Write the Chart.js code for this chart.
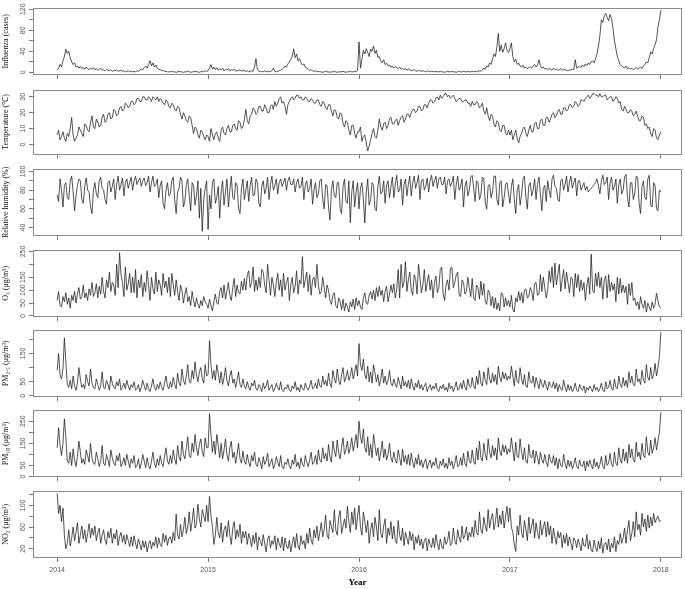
<!DOCTYPE html>
<html><head><meta charset="utf-8">
<script src="https://cdn.jsdelivr.net/npm/chart.js@4.4.0/dist/chart.umd.min.js"></script>
<style>
html,body{margin:0;padding:0;background:#fff;width:685px;height:589px;overflow:hidden;position:relative;}
canvas{position:absolute;left:0;}
</style></head><body>
<script>
// x tick labels (years)
const yearTicks = [2014, 2015, 2016, 2017, 2018];

// all series: twice-weekly samples (104 per year, last point = 1 Jan 2018)
const influenzaCases = [
 4,8,15,10,22,30,44,36,40,28,20,15,18,10,12,8,11,7,9,6,10,7,5,8,6,9,
 5,7,4,6,8,4,5,3,6,4,3,5,2,4,3,5,2,3,4,2,3,1,2,3,1,2,
 1,2,1,3,2,4,6,5,9,12,8,15,22,12,18,10,14,8,6,5,3,4,2,2,1,1,
 1,2,1,1,0,1,2,1,1,0,1,1,2,1,0,1,1,2,1,1,0,1,2,1,3,2,
 3,8,15,6,10,5,9,4,7,5,8,3,6,4,7,3,5,4,6,2,4,3,5,2,4,3,
 2,3,1,2,3,2,10,26,6,2,1,2,1,3,1,2,1,2,3,8,2,1,2,3,4,6,
 8,12,10,16,20,25,30,45,28,35,22,26,18,14,16,10,8,6,4,5,3,2,3,1,2,1,
 1,0,1,2,1,1,0,1,1,2,1,0,1,1,1,2,1,0,1,1,2,1,1,2,1,3,
 58,8,25,42,35,45,38,30,44,40,50,36,42,28,30,22,18,24,15,17,12,14,10,12,8,11,
 9,7,10,6,8,5,7,4,6,5,3,4,5,3,2,4,3,2,3,2,1,3,2,1,2,2,
 1,2,1,1,2,1,1,0,1,2,1,1,2,1,1,0,1,2,1,1,2,1,1,2,1,1,
 2,1,2,1,2,3,2,5,8,6,12,10,18,15,25,35,30,48,74,40,52,38,45,56,42,38,
 45,56,30,20,25,15,18,12,10,14,8,10,7,9,11,8,12,15,10,14,24,12,8,10,6,8,
 5,7,6,4,8,5,6,4,5,7,4,6,5,4,3,5,4,6,5,24,8,10,12,9,14,11,
 16,13,18,15,20,22,18,26,35,50,70,100,95,108,112,104,98,110,102,85,60,45,30,22,15,12,
 10,8,12,7,9,6,8,5,7,9,6,8,10,7,12,15,20,18,28,39,35,45,53,62,87,100,
 118];
const temperature = [
 6,9,3,5,8,4,2,7,5,10,17,6,2,4,6,11,9,7,5,13,12,9,8,14,18,11,
 10,16,14,11,12,17,19,14,15,19,20,16,17,22,21,18,19,23,24,21,22,26,25,23,24,27,
 27,25,26,29,29,27,27,30,30,28,28,30,29,27,30,29,28,30,27,29,28,26,25,28,27,24,
 23,26,25,22,21,24,23,19,16,20,18,15,14,18,17,12,7,11,10,6,4,9,8,5,3,6,
 5,2,10,6,3,7,8,4,2,9,11,7,6,10,12,8,8,12,13,10,9,15,14,10,11,16,
 22,15,13,18,19,23,22,19,20,24,24,21,21,25,23,20,20,24,25,22,27,24,26,29,30,26,
 27,24,19,25,27,29,30,28,29,31,31,29,30,28,28,30,29,27,27,29,28,26,26,28,28,25,
 24,27,26,23,22,25,25,21,18,22,21,17,16,20,19,13,11,15,14,9,6,12,12,7,4,8,
 8,11,2,5,6,1,-4,-1,3,7,10,5,4,9,16,11,9,13,14,10,12,16,17,13,13,15,
 16,12,15,17,18,14,16,19,19,17,20,22,22,20,21,24,24,21,22,25,25,23,26,28,28,26,
 27,29,30,28,31,29,30,32,32,30,31,29,30,31,29,27,28,29,29,27,27,28,28,26,26,24,
 27,25,25,27,26,23,24,26,21,19,23,18,15,19,18,13,11,15,14,9,8,12,12,7,6,9,
 6,9,3,6,9,4,1,5,7,10,11,7,5,9,12,8,8,13,14,10,10,15,16,12,12,17,
 17,14,16,19,20,17,18,21,22,19,19,23,23,21,22,25,25,23,24,27,26,24,25,28,28,27,
 29,30,31,29,30,32,32,31,31,30,32,30,30,31,31,28,29,30,30,27,28,30,29,26,27,22,
 21,24,22,20,20,22,21,18,19,21,18,15,15,18,17,12,13,10,11,7,5,10,9,4,3,6,
 8];
const humidity = [
 75,68,92,80,62,85,88,72,70,90,95,78,58,74,85,92,90,70,66,84,93,80,78,62,55,80,
 88,76,72,90,94,82,80,70,65,88,90,78,84,92,70,86,95,80,86,93,74,88,92,82,88,94,
 80,90,95,86,90,93,84,90,93,85,88,95,78,88,95,84,86,92,72,85,90,66,60,80,88,74,
 76,90,94,70,55,78,82,94,90,62,68,86,92,75,58,88,85,64,74,90,50,82,36,70,82,90,
 38,75,60,88,92,66,72,84,50,78,90,64,78,92,62,80,95,72,70,88,85,60,55,82,92,70,
 80,90,68,85,94,74,75,92,88,66,62,84,90,76,82,94,70,86,95,80,85,92,76,88,92,84,
 88,93,80,90,94,86,86,92,78,88,92,82,84,94,70,86,90,78,82,92,65,80,88,72,76,90,
 92,70,60,86,85,62,48,80,90,74,72,88,88,60,55,84,92,68,66,90,45,78,90,62,78,88,
 60,82,88,70,45,78,92,64,70,88,85,60,58,84,95,76,78,90,66,85,90,72,84,94,72,86,
 96,78,80,92,64,86,92,74,86,95,74,88,95,82,88,96,70,90,92,80,84,93,78,90,96,84,
 90,95,82,92,94,86,86,94,76,90,92,84,88,95,70,86,95,80,84,92,62,84,90,74,80,94,
 96,82,68,90,88,70,75,94,92,66,60,85,86,72,78,95,95,70,64,88,90,62,72,86,88,76,
 66,84,92,70,55,80,86,64,75,92,95,72,60,85,88,74,80,92,70,86,94,76,58,82,85,68,
 90,80,72,92,96,84,82,70,68,90,92,80,86,95,78,88,95,82,88,93,74,90,90,80,84,88,
 80,84,78,80,82,84,86,88,92,84,76,90,96,86,88,94,70,88,94,80,84,92,66,86,92,76,
 80,94,97,72,62,88,88,70,76,95,94,66,55,84,90,72,70,92,96,64,62,88,85,60,58,80,
 78];
const ozone = [
 60,95,40,35,75,55,90,45,70,30,80,60,95,50,85,110,65,75,120,70,90,60,105,80,130,75,
 90,125,70,115,85,150,95,70,140,110,170,95,130,120,80,200,110,245,160,130,75,190,100,125,165,90,
 150,90,180,70,140,110,160,75,130,95,175,120,60,150,105,85,170,95,140,120,80,165,110,135,90,150,
 75,165,120,80,140,95,60,120,100,50,85,110,55,75,40,95,60,35,70,45,30,60,40,75,55,45,
 30,65,40,20,55,85,50,45,95,110,70,120,65,95,130,80,60,110,145,75,120,90,85,135,100,145,
 100,160,175,110,130,190,95,140,100,150,110,180,170,120,90,200,140,80,150,120,75,130,165,100,140,75,
 165,100,130,150,60,120,150,90,115,175,85,140,125,230,110,140,170,95,160,80,140,150,110,200,120,85,
 95,150,110,70,120,100,60,45,80,90,40,30,70,55,25,65,20,50,35,15,55,35,65,25,70,40,
 60,35,25,70,90,50,45,80,95,65,100,60,110,75,115,80,100,55,95,115,55,85,120,90,125,70,
 105,180,70,200,110,130,210,95,140,170,100,80,160,145,85,200,150,90,120,180,95,130,160,100,140,70,
 130,155,90,110,180,190,85,60,120,140,100,185,190,110,130,160,170,80,75,140,130,85,95,150,110,75,
 145,70,60,120,110,65,135,80,125,55,45,100,90,40,75,30,70,25,50,20,90,85,35,70,40,60,
 35,80,25,15,70,55,95,60,90,50,100,105,70,75,110,95,60,125,130,80,85,160,95,150,110,70,
 100,175,130,190,110,205,120,160,200,95,140,180,105,170,130,90,150,145,75,165,110,160,95,140,100,130,
 60,120,150,85,240,100,90,165,115,170,110,150,65,140,155,70,160,95,130,100,125,55,150,85,145,90,
 120,90,115,45,125,80,130,60,70,40,55,25,75,45,30,60,15,50,35,20,55,30,45,88,60,35,
 30];
const pm25 = [
 90,150,75,60,95,205,120,40,30,55,25,70,35,20,45,100,60,30,40,25,75,50,35,95,45,30,
 25,60,40,20,35,85,30,25,55,40,20,70,45,30,25,50,35,60,20,30,45,25,55,35,20,40,
 30,50,20,25,40,15,30,55,35,20,45,25,15,35,60,30,20,40,25,50,30,20,45,70,35,25,
 50,30,65,40,25,80,45,35,95,55,40,70,110,50,45,90,60,120,75,50,85,100,60,45,110,70,
 75,195,110,60,90,55,110,80,45,85,40,65,100,55,35,70,90,45,60,30,55,85,40,30,60,35,
 25,50,30,20,45,35,55,25,20,40,30,15,45,25,35,55,20,30,40,15,25,45,30,20,50,20,
 15,30,25,40,20,15,35,25,50,20,30,15,40,25,20,45,30,20,35,55,25,30,45,25,60,35,
 30,70,40,55,35,80,45,30,90,60,45,95,55,40,75,100,50,65,90,55,70,100,60,85,110,70,
 185,110,90,130,75,60,105,50,85,45,110,80,50,75,35,60,95,45,70,40,55,90,45,35,60,40,
 30,65,45,25,70,35,50,30,55,25,60,35,20,45,30,55,25,40,20,35,45,15,30,40,20,35,
 25,45,20,15,35,25,40,20,30,15,45,25,35,15,30,50,20,25,45,25,55,30,20,60,35,30,
 65,35,25,70,40,90,45,35,85,55,40,100,60,45,80,50,75,40,105,65,50,85,60,80,55,70,
 60,105,70,35,90,50,45,100,60,40,75,35,30,85,50,45,70,30,65,45,25,60,40,30,55,35,
 20,50,35,30,50,25,45,15,40,25,20,55,30,15,40,20,35,15,25,45,20,15,40,25,20,35,
 10,30,20,35,25,15,40,20,30,15,25,45,20,15,50,25,30,55,25,20,60,30,25,70,40,30,
 65,35,55,30,85,45,70,40,35,95,50,60,40,90,55,45,110,65,55,100,60,75,115,70,100,140,
 225];
const pm10 = [
 130,220,140,95,150,260,180,70,60,110,50,125,75,45,90,160,110,60,80,55,120,95,65,150,85,60,
 55,110,80,45,70,140,60,50,100,75,45,120,85,60,50,95,70,105,45,60,85,50,100,70,40,80,
 60,95,40,50,80,35,60,100,70,40,85,50,35,70,110,60,40,80,50,95,60,45,90,130,70,55,
 95,60,120,80,55,140,90,70,160,100,80,130,180,95,85,150,110,190,130,95,145,170,110,90,175,130,
 130,285,190,110,160,100,190,140,85,150,80,120,170,100,70,130,160,85,110,60,100,150,80,60,115,70,
 55,100,65,45,95,70,110,55,45,85,65,35,90,55,70,105,45,60,80,35,55,90,65,45,95,45,
 35,65,55,80,45,35,75,55,100,45,65,35,85,55,45,95,65,45,75,110,55,65,95,55,120,75,
 65,130,80,105,70,145,90,65,160,115,90,165,105,80,135,175,100,120,160,105,130,175,115,150,190,130,
 250,180,150,215,130,110,180,95,145,85,190,140,95,130,70,110,160,85,125,75,100,150,85,65,110,75,
 60,120,85,50,125,65,95,55,100,50,105,65,40,85,55,100,50,75,40,65,80,35,60,75,40,65,
 50,85,40,35,70,50,80,40,60,35,85,50,70,35,60,95,45,50,85,50,105,60,45,115,70,60,
 120,70,55,130,75,160,85,70,150,100,75,170,110,85,140,95,130,75,175,115,95,145,110,140,100,125,
 110,175,120,70,155,90,85,170,110,75,130,70,60,145,90,85,120,60,115,85,55,110,75,60,100,65,
 45,100,70,60,95,50,85,35,80,50,45,100,60,35,75,45,70,35,55,85,45,35,75,50,45,70,
 25,70,45,75,50,35,80,45,65,35,55,90,45,35,95,50,60,105,55,45,110,60,50,130,75,60,
 125,70,110,60,145,85,125,75,65,155,90,110,75,150,95,85,180,110,95,165,105,130,175,120,160,200,
 290];
const no2 = [
 122,85,100,70,95,45,20,30,55,25,40,60,35,50,68,30,45,62,38,55,32,48,66,40,58,45,
 62,35,50,58,30,45,55,36,28,52,40,58,30,48,38,55,26,42,50,32,45,28,46,35,24,42,
 25,44,30,20,38,28,18,35,22,34,14,28,35,20,32,25,42,22,40,28,24,48,32,45,26,40,
 42,30,50,35,84,45,38,65,42,55,78,48,60,88,52,70,95,58,66,102,75,60,92,80,70,100,
 70,116,80,60,28,45,78,50,40,68,32,55,62,42,72,45,28,58,70,38,55,42,65,30,52,40,
 52,28,48,38,24,45,30,50,18,42,35,25,46,30,14,38,44,22,35,28,44,18,40,30,22,42,
 16,40,25,20,36,14,30,42,22,48,25,18,44,28,35,20,48,30,58,36,28,55,40,62,35,50,
 68,42,55,82,45,38,72,60,50,92,55,45,78,90,48,62,75,58,98,70,50,88,65,95,55,80,
 100,60,45,88,70,50,72,30,55,68,42,78,60,35,92,48,40,62,75,30,58,45,70,38,62,35,
 30,72,45,35,58,26,50,40,28,52,35,48,18,42,30,45,26,38,20,35,40,16,38,28,22,40,
 22,46,30,18,38,25,20,42,28,35,52,26,30,58,35,28,55,40,32,62,38,45,60,35,50,42,
 60,42,72,50,45,88,55,48,78,62,52,92,58,75,85,55,70,95,60,82,65,90,58,80,98,70,
 95,60,50,28,15,62,45,82,50,40,72,55,35,78,48,62,75,40,68,50,38,72,45,60,70,42,
 70,45,62,30,58,40,28,52,40,50,22,45,30,48,25,42,30,18,40,35,22,38,28,16,40,25,
 25,46,20,35,18,14,36,22,15,34,20,40,12,28,32,18,38,14,30,22,42,15,35,28,48,30,
 40,58,30,55,72,35,48,70,42,88,55,65,45,85,60,75,52,82,58,78,62,85,68,75,80,70,
 72];

// y tick positions and the ones that carry a label
const influenzaTicks = [0,20,40,60,80,100,120], influenzaLabels = [0,40,80,120];
const temperatureTicks = [0,10,20,30], temperatureLabels = [0,10,20,30];
const humidityTicks = [40,50,60,70,80,90,100], humidityLabels = [40,60,80,100];
const ozoneTicks = [0,50,100,150,200,250], ozoneLabels = [0,50,100,150,250];
const pm25Ticks = [0,50,100,150,200], pm25Labels = [0,50,150];
const pm10Ticks = [0,50,100,150,200,250], pm10Labels = [0,50,150,250];
const no2Ticks = [20,40,60,80,100,120], no2Labels = [20,60,100];

const titles = ['Influenza (cases)','Temperature (\u2103)','Relative humidity (%)','O\u2083 (\u03bcg/m\u00b3)','PM\u2082.\u2085 (\u03bcg/m\u00b3)','PM\u2081\u2080 (\u03bcg/m\u00b3)','NO\u2082 (\u03bcg/m\u00b3)'];

const dateOf = (arr) => arr.map((_, i) => 2014 + 4 * i / (arr.length - 1));

const panels = [
 {title: titles[0], values: influenzaCases, ticks: influenzaTicks, shown: influenzaLabels, min: -5, max: 123},
 {title: titles[1], values: temperature, ticks: temperatureTicks, shown: temperatureLabels, min: -6.2, max: 34.5},
 {title: titles[2], values: humidity, ticks: humidityTicks, shown: humidityLabels, min: 31, max: 103},
 {title: titles[3], values: ozone, ticks: ozoneTicks, shown: ozoneLabels, min: -4, max: 257},
 {title: titles[4], values: pm25, ticks: pm25Ticks, shown: pm25Labels, min: -4, max: 234},
 {title: titles[5], values: pm10, ticks: pm10Ticks, shown: pm10Labels, min: -2, max: 302},
 {title: titles[6], values: no2, ticks: no2Ticks, shown: no2Labels, min: 3, max: 127}
];

const tops = [3, 83, 164, 245, 325, 405, 486];
const boxH = 72;
const tickFont = {family: "'Liberation Sans', Arial, sans-serif", size: 7};
const mctx = document.createElement('canvas').getContext('2d');
mctx.font = "7px 'Liberation Sans', Arial, sans-serif";

const boxPlugin = {
  id: 'box',
  afterDraw(chart) {
    const {ctx, chartArea: a} = chart;
    ctx.save();
    ctx.strokeStyle = '#8c8c8c';
    ctx.lineWidth = 1;
    ctx.strokeRect(Math.round(a.left) + 0.5, Math.round(a.top) + 0.5, Math.round(a.right - a.left) - 1, Math.round(a.bottom - a.top) - 1);
    ctx.restore();
  }
};

panels.forEach((p, k) => {
  const last = k === panels.length - 1;
  const axisH = last ? 31 : 6;
  const h = boxH + axisH;
  const cv = document.createElement('canvas');
  cv.width = 685; cv.height = h;
  cv.style.width = '685px'; cv.style.height = h + 'px';
  cv.style.top = tops[k] + 'px';
  document.body.appendChild(cv);
  const xs = dateOf(p.values);
  const widest = Math.max(...p.shown.map(v => mctx.measureText(String(v)).width));
  const pad = Math.max(0, 33 - 4 - widest / 2 - 22.7);
  new Chart(cv, {
    type: 'line',
    data: {datasets: [{
      data: p.values.map((v, i) => ({x: xs[i], y: v})),
      borderColor: '#1c1c1c', borderWidth: 0.75, pointRadius: 0, tension: 0, fill: false
    }]},
    options: {
      responsive: false, animation: false, events: [],
      layout: {padding: {top: 0, right: 3, left: 0, bottom: 0}},
      plugins: {legend: {display: false}, tooltip: {enabled: false}},
      scales: {
        x: {
          type: 'linear', min: 2013.84, max: 2018.14,
          afterBuildTicks: s => { s.ticks = yearTicks.map(v => ({value: v})); },
          afterFit: s => { s.height = axisH; },
          grid: {drawOnChartArea: false, drawTicks: true, tickLength: 4, color: '#777'},
          border: {display: false},
          ticks: {display: last, autoSkip: false, minRotation: 0, maxRotation: 0, padding: 3.5, color: '#555', font: tickFont, callback: v => String(v)},
          title: {display: last, text: 'Year', color: '#000', font: {family: "'Liberation Serif', 'Times New Roman', serif", size: 9, weight: 'bold'}, padding: {top: 0, bottom: 1}}
        },
        y: {
          min: p.min, max: p.max,
          afterBuildTicks: s => { s.ticks = p.ticks.map(v => ({value: v})); },
          afterFit: s => { s.width = 33; },
          grid: {drawOnChartArea: false, drawTicks: true, tickLength: 4, color: '#777'},
          border: {display: false},
          ticks: {autoSkip: false, minRotation: 90, maxRotation: 90, crossAlign: 'center', padding: pad, color: '#555', font: tickFont,
                  callback: v => p.shown.includes(v) ? String(v) : ''},
          title: {display: true, text: p.title, color: '#111', font: {family: "'Liberation Serif', 'Times New Roman', serif", size: 8}, padding: {top: 1.5, bottom: 0}}
        }
      }
    },
    plugins: [boxPlugin]
  });
});
</script>
</body></html>
